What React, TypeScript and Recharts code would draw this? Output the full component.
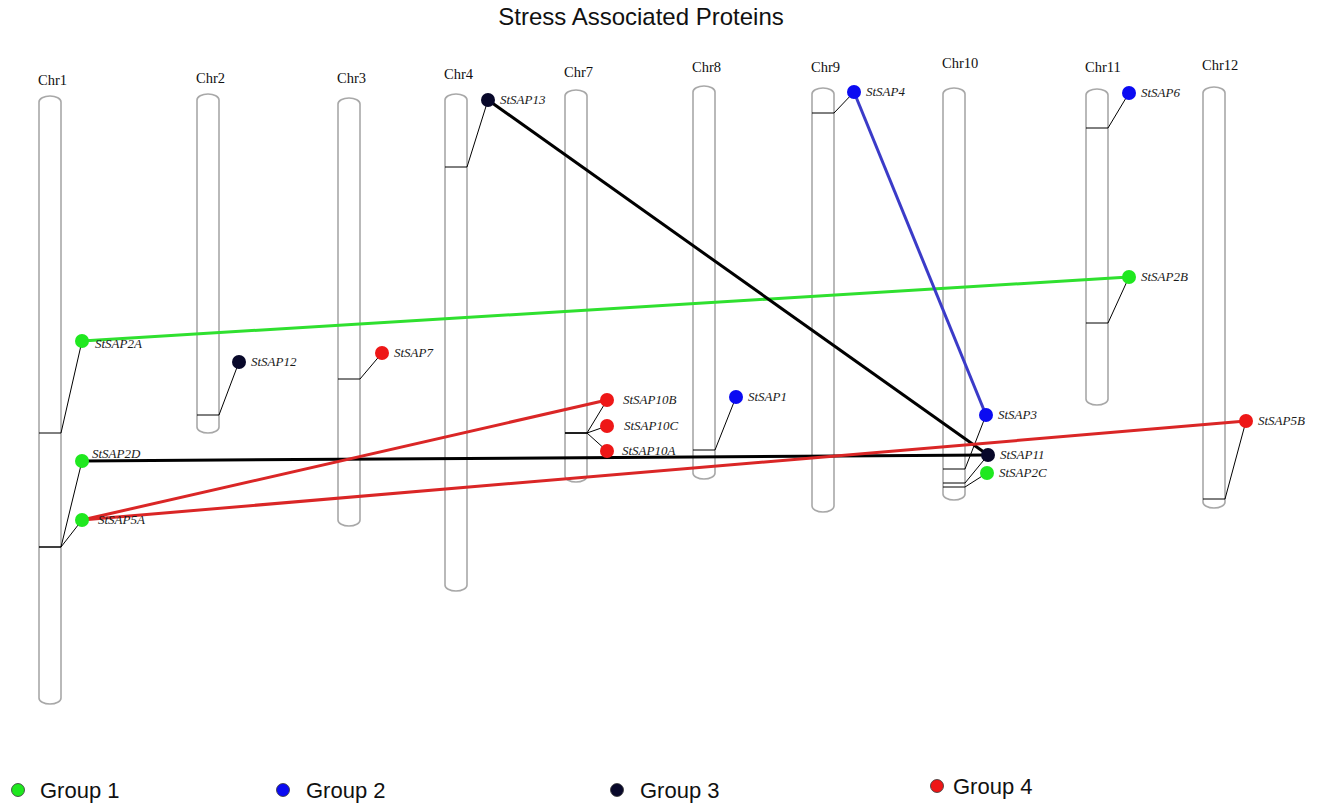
import React from 'react';
import {
  ComposedChart,
  XAxis,
  YAxis,
  Scatter,
  ReferenceArea,
  ReferenceLine,
} from 'recharts';

// chromosome layout (map units, y grows downward)
const chromosomes = ['Chr1', 'Chr2', 'Chr3', 'Chr4', 'Chr7', 'Chr8', 'Chr9', 'Chr10', 'Chr11', 'Chr12'];
const chrLeft = [39, 197, 338, 445, 565, 693, 812, 943, 1086, 1203];
const chrTop = [96, 94, 98, 94, 90, 86, 88, 88, 89, 87];
const chrBottom = [704, 433, 526, 591, 482, 479, 512, 500, 405, 508];

// SAP genes: chromosome, locus on the chromosome, marker position, group
const geneNames = [
  'StSAP2A', 'StSAP2D', 'StSAP5A', 'StSAP12', 'StSAP7', 'StSAP13', 'StSAP10B', 'StSAP10C', 'StSAP10A',
  'StSAP1', 'StSAP4', 'StSAP3', 'StSAP11', 'StSAP2C', 'StSAP6', 'StSAP2B', 'StSAP5B',
];
const geneChr = [
  'Chr1', 'Chr1', 'Chr1', 'Chr2', 'Chr3', 'Chr4', 'Chr7', 'Chr7', 'Chr7',
  'Chr8', 'Chr9', 'Chr10', 'Chr10', 'Chr10', 'Chr11', 'Chr11', 'Chr12',
];
const geneLocus = [433, 547, 547, 415, 379, 167, 433, 433, 433, 450, 113, 469, 483, 487, 128, 323, 499];
const geneX = [82, 82, 82, 239, 382, 488, 607, 607, 607, 736, 854, 986, 988, 987, 1129, 1129, 1246];
const geneY = [341, 461, 520, 362, 353, 100, 400, 426, 451, 397, 92, 415, 455, 473, 93, 277, 421];
const geneGroup = [1, 1, 1, 3, 4, 3, 4, 4, 4, 2, 2, 2, 3, 1, 2, 1, 4];

// duplicated pairs
const linkFrom = ['StSAP2A', 'StSAP13', 'StSAP2D', 'StSAP4', 'StSAP5A', 'StSAP5A'];
const linkTo = ['StSAP2B', 'StSAP11', 'StSAP11', 'StSAP3', 'StSAP10B', 'StSAP5B'];
const linkGroup = [1, 3, 3, 2, 4, 4];

const groupNames = ['Group 1', 'Group 2', 'Group 3', 'Group 4'];

const W = 1321;
const H = 805;
const CHR_W = 22;
const SERIF = '"Liberation Serif", "Times New Roman", serif';
const SANS = '"Liberation Sans", Arial, sans-serif';

const dotColors = ['#1fe81f', '#0b0bf2', '#08082a', '#ee1717'];
const linkColors = ['#2fe02f', '#3b3bc8', '#000000', '#da2626'];

const chrLabelLift: Record<string, number> = {
  Chr1: 11, Chr2: 11, Chr3: 15, Chr4: 15, Chr7: 13, Chr8: 14, Chr9: 16, Chr10: 20, Chr11: 17, Chr12: 17,
};

const labelNudge: Record<string, [number, number]> = {
  StSAP2A: [13, 7],
  StSAP2D: [10, -3],
  StSAP5A: [16, 4],
  StSAP10B: [16, 4],
  StSAP10C: [17, 4],
  StSAP10A: [15, 4],
};

const legendDotX = [18, 283, 617, 937];
const legendDotY = [790, 790, 790, 786];
const legendTextX = [40, 306, 640, 953];

const genes = geneNames.map((name, i) => ({
  name,
  chr: geneChr[i],
  locus: geneLocus[i],
  x: geneX[i],
  y: geneY[i],
  group: geneGroup[i],
}));
const geneByName = Object.fromEntries(genes.map((g) => [g.name, g]));
const leftOf = (chr: string) => chrLeft[chromosomes.indexOf(chr)];

const chromosomeShape = (name: string) => (props: any) => {
  const { x, y, width, height } = props;
  return (
    <g>
      <rect
        x={x}
        y={y}
        width={width}
        height={height}
        rx={width / 2}
        ry={6}
        fill="#ffffff"
        stroke="#a8a8a8"
        strokeWidth={1.6}
      />
      <text x={x - 1} y={y - chrLabelLift[name]} fontFamily={SERIF} fontSize={14.5} fill="#111">
        {name}
      </text>
    </g>
  );
};

const GeneDot = (props: any) => {
  const { cx, cy, payload, fill } = props;
  const [dx, dy] = labelNudge[payload.name] ?? [12, 4];
  return (
    <g>
      <circle cx={cx} cy={cy} r={7} fill={fill} />
      <text x={cx + dx} y={cy + dy} fontFamily={SERIF} fontStyle="italic" fontSize={13} fill="#1a1a1a">
        {payload.name}
      </text>
    </g>
  );
};

// group key along the bottom edge
const GroupKey = () => (
  <svg
    width={W}
    height={H}
    style={{ position: 'absolute', left: 0, top: 0, pointerEvents: 'none' }}
  >
    {groupNames.map((name, i) => (
      <g key={name}>
        <circle cx={legendDotX[i]} cy={legendDotY[i]} r={6.5} fill={dotColors[i]} stroke="#333" strokeWidth={0.8} />
        <text x={legendTextX[i]} y={legendDotY[i] + 8} fontFamily={SANS} fontSize={22} fill="#111">
          {name}
        </text>
      </g>
    ))}
  </svg>
);

export default function App() {
  return (
    <div style={{ position: 'absolute', left: 0, top: 0, width: W, height: H, background: '#fff' }}>
      <div
        style={{
          position: 'absolute',
          left: 0,
          top: 5,
          width: 1282,
          textAlign: 'center',
          fontFamily: SANS,
          fontSize: 24,
          lineHeight: '24px',
          color: '#111',
          zIndex: 1,
        }}
      >
        Stress Associated Proteins
      </div>
      <ComposedChart width={W} height={H} margin={{ top: 0, right: 0, bottom: 0, left: 0 }}>
        <XAxis type="number" dataKey="x" domain={[0, W]} allowDataOverflow hide />
        <YAxis type="number" dataKey="y" domain={[0, H]} allowDataOverflow reversed hide />

        {chromosomes.map((name, i) => (
          <ReferenceArea
            key={name}
            x1={chrLeft[i]}
            x2={chrLeft[i] + CHR_W}
            y1={chrTop[i]}
            y2={chrBottom[i]}
            shape={chromosomeShape(name)}
          />
        ))}

        {genes.map((g) => (
          <ReferenceLine
            key={`${g.name}-tick`}
            segment={[
              { x: leftOf(g.chr), y: g.locus },
              { x: leftOf(g.chr) + CHR_W, y: g.locus },
            ]}
            stroke="#000"
            strokeWidth={1}
          />
        ))}
        {genes.map((g) => (
          <ReferenceLine
            key={`${g.name}-lead`}
            segment={[
              { x: leftOf(g.chr) + CHR_W, y: g.locus },
              { x: g.x, y: g.y },
            ]}
            stroke="#000"
            strokeWidth={1}
          />
        ))}

        {linkFrom.map((from, i) => {
          const a = geneByName[from];
          const b = geneByName[linkTo[i]];
          return (
            <ReferenceLine
              key={`${from}-${linkTo[i]}`}
              segment={[
                { x: a.x, y: a.y },
                { x: b.x, y: b.y },
              ]}
              stroke={linkColors[linkGroup[i] - 1]}
              strokeWidth={3}
            />
          );
        })}

        {groupNames.map((name, i) => (
          <Scatter
            key={name}
            name={name}
            data={genes.filter((g) => g.group === i + 1)}
            fill={dotColors[i]}
            shape={GeneDot}
            isAnimationActive={false}
          />
        ))}
      </ComposedChart>
      <GroupKey />
    </div>
  );
}
